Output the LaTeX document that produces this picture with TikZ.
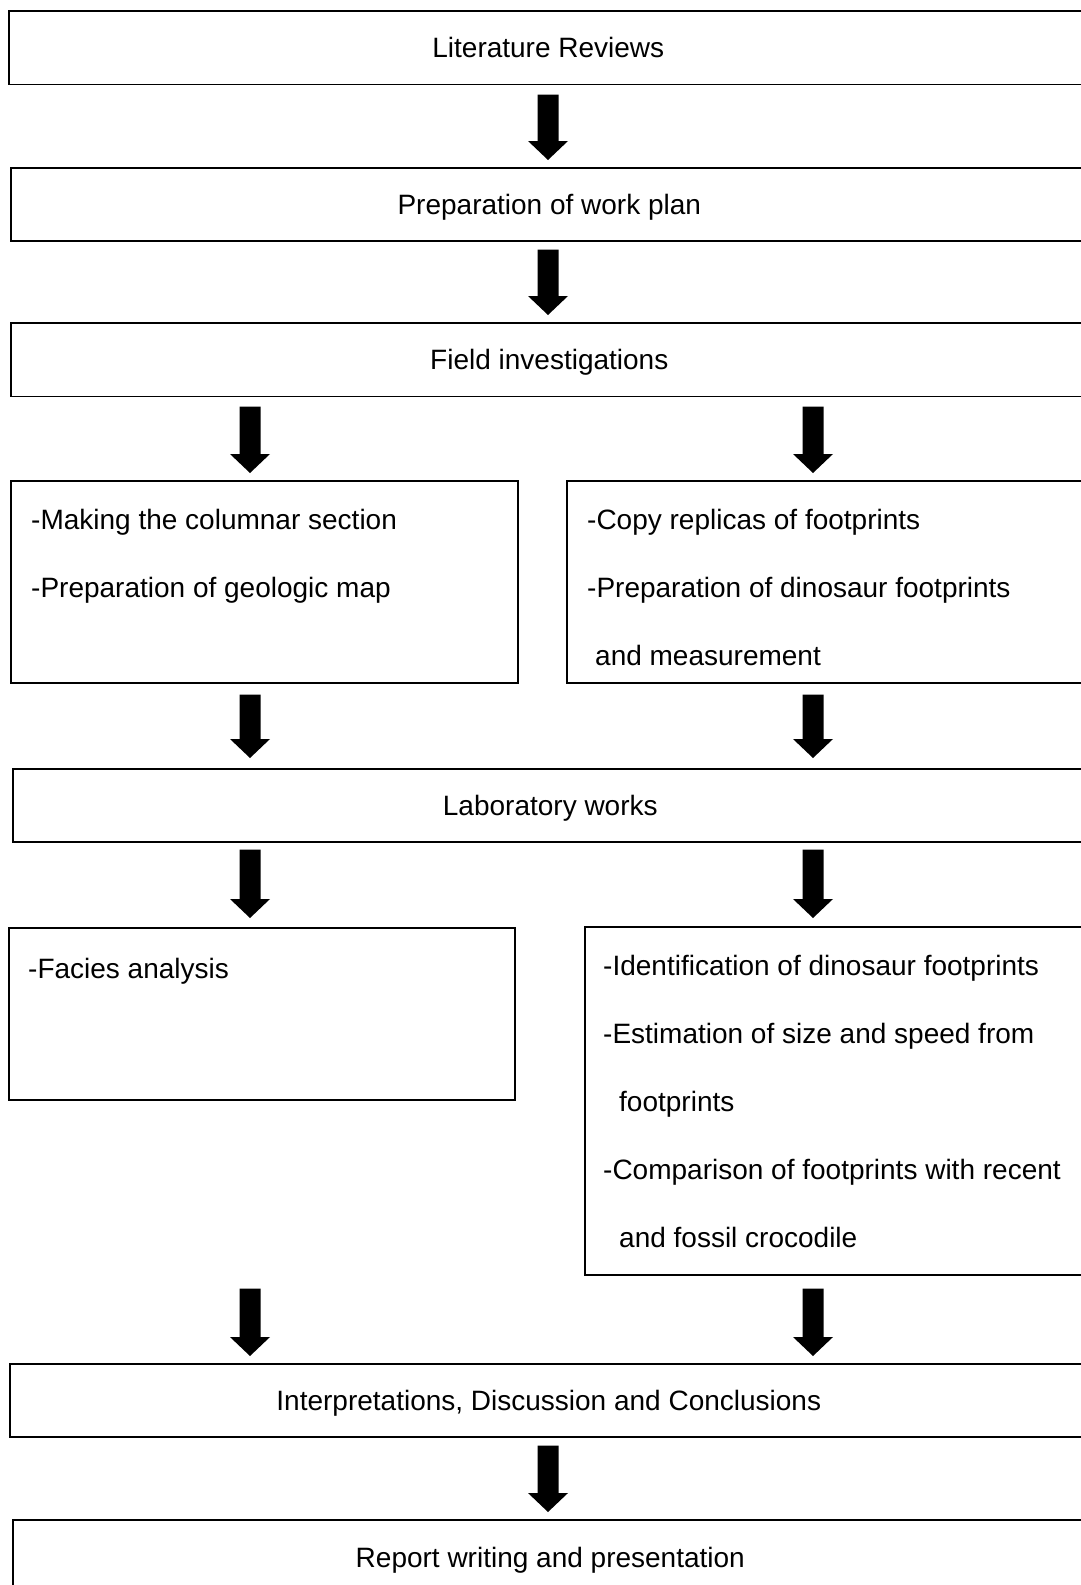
\documentclass[tikz,border=0pt]{standalone}
\usepackage{fontspec}
\setmainfont{Liberation Sans}
\usetikzlibrary{calc}

\begin{document}
\begin{tikzpicture}
    [x=1pt, y=-1pt,
    flowbox/.style={draw, line width=1.6pt, rectangle, anchor=north west, inner sep=0pt, text depth=0pt, minimum height=73.5pt, font=\fontsize{28}{34}\selectfont},
    items/.style={anchor=base west, align=left, inner sep=0pt, font=\fontsize{28}{68}\selectfont},
    bigarrow/.style={fill=black, to path={let \p1=(\tikztostart), \p2=(\tikztotarget) in (\x1-10.5pt,\y1) -- (\x1+10.5pt,\y1) -- (\x1+10.5pt,\y2+19pt) -- (\x1+20pt,\y2+19pt) -- (\x1,\y2) -- (\x1-20pt,\y2+19pt) -- (\x1-10.5pt,\y2+19pt) -- cycle}}]
    \useasboundingbox (0,0) rectangle (1081,1585);
    \clip (0,0) rectangle (1081,1585);
    \coordinate (colL) at (250,0);
    \coordinate (colM) at (548,0);
    \coordinate (colR) at (813,0);

    \node[flowbox, minimum width=1079pt] (lit) at (8,10) {Literature Reviews};
    \node[flowbox, minimum width=1077pt, minimum height=73pt] (plan) at (10,167) {Preparation of work plan};
    \node[flowbox, minimum width=1077pt] (field) at (10,322) {Field investigations};
    \node[flowbox, minimum width=507pt, minimum height=202pt] (cols) at (10,480) {};
    \node[flowbox, minimum width=521pt, minimum height=202pt] (fprint) at (566,480) {};
    \node[flowbox, minimum width=1075pt, minimum height=73pt] (lab) at (12,768) {Laboratory works};
    \node[flowbox, minimum width=506pt, minimum height=172pt] (facies) at (8,927) {};
    \node[flowbox, minimum width=503pt, minimum height=348pt] (ident) at (584,926) {};
    \node[flowbox, minimum width=1078pt, minimum height=73pt] (interp) at (9,1363) {Interpretations, Discussion and Conclusions};
    \node[flowbox, minimum width=1075pt, minimum height=76pt] (report) at (12,1519) {Report writing and presentation};

    \node[items] (colstxt) at ($(cols.north west)+(21,117)$) {-Making the columnar section\\-Preparation of geologic map};
    \node[items] (fprinttxt) at ($(fprint.north west)+(21,185)$) {-Copy replicas of footprints\\-Preparation of dinosaur footprints\\\hspace{8pt}and measurement};
    \node[items] (faciestxt) at ($(facies.north west)+(20,51)$) {-Facies analysis};
    \node[items] (identtxt) at ($(ident.north west)+(19,321)$) {-Identification of dinosaur footprints\\-Estimation of size and speed from\\\hspace{16pt}footprints\\-Comparison of footprints with recent\\\hspace{16pt}and fossil crocodile};

    \path[bigarrow] ($(lit.south -| colM)+(0,9.5)$) to ($(plan.north -| colM)-(0,7)$);
    \path[bigarrow] ($(plan.south -| colM)+(0,8)$) to ($(field.north -| colM)-(0,7)$);
    \path[bigarrow] ($(field.south -| colL)+(0,9.5)$) to ($(cols.north -| colL)-(0,7)$);
    \path[bigarrow] ($(field.south -| colR)+(0,9.5)$) to ($(fprint.north -| colR)-(0,7)$);
    \path[bigarrow] ($(cols.south -| colL)+(0,11)$) to ($(lab.north -| colL)-(0,10)$);
    \path[bigarrow] ($(fprint.south -| colR)+(0,11)$) to ($(lab.north -| colR)-(0,10)$);
    \path[bigarrow] ($(lab.south -| colL)+(0,7)$) to ($(facies.north -| colL)-(0,9)$);
    \path[bigarrow] ($(lab.south -| colR)+(0,7)$) to ($(ident.north -| colR)-(0,8)$);
    \path[bigarrow] ($(ident.south -| colL)+(0,13)$) to ($(interp.north -| colL)-(0,7)$);
    \path[bigarrow] ($(ident.south -| colR)+(0,13)$) to ($(interp.north -| colR)-(0,7)$);
    \path[bigarrow] ($(interp.south -| colM)+(0,8)$) to ($(report.north -| colM)-(0,7)$);
\end{tikzpicture}
\end{document}
